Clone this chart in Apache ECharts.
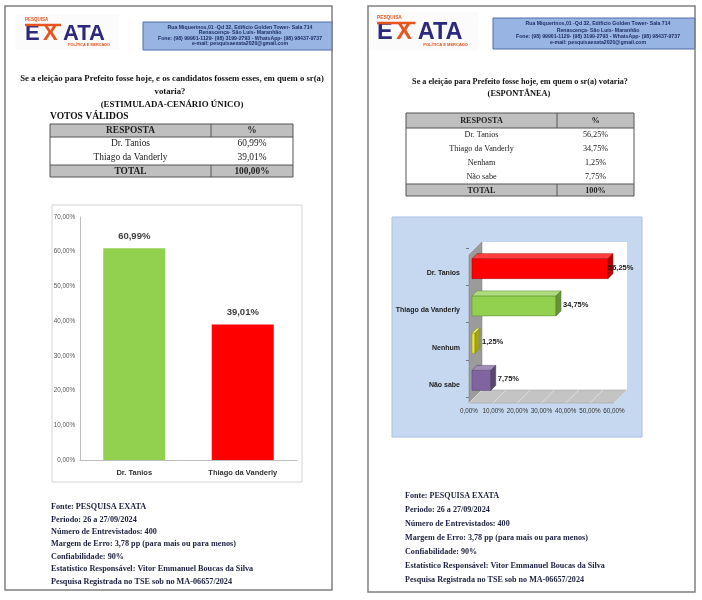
<!DOCTYPE html>
<html><head><meta charset="utf-8">
<script src="https://cdn.jsdelivr.net/npm/echarts@6/dist/echarts.min.js"></script>
<style>html,body{margin:0;padding:0;background:#fff}#c{width:702px;height:600px}</style>
</head><body><div id="c"></div>
<script>
// ---------------- DATA ----------------
const leftCategories = ['Dr. Tanios', 'Thiago da Vanderly'];
const leftValues = [60.99, 39.01];
const leftTotalLabel = '100,00%';
const rightCategories = ['Dr. Tanios', 'Thiago da Vanderly', 'Nenhum', 'Não sabe'];
const rightTableLabels = ['Dr. Tanios', 'Thiago da Vanderly', 'Nenham', 'Não sabe'];
const rightValues = [56.25, 34.75, 1.25, 7.75];
const rightTotalLabel = '100%';
const rightXTicks = [0, 10, 20, 30, 40, 50, 60];
const leftTitle = ['Se a eleição para Prefeito fosse hoje, e os candidatos fossem esses, em quem o sr(a)', 'votaria?', '(ESTIMULADA-CENÁRIO ÚNICO)'];
const leftSubtitle = 'VOTOS VÁLIDOS';
const rightTitle = ['Se a eleição para Prefeito fosse hoje, em quem o sr(a) votaria?', '(ESPONTÂNEA)'];
const tableHeader = ['RESPOSTA', '%'];
const totalLabel = 'TOTAL';
const addressLines = ['Rua Miquerinos,01 -Qd 32, Edifício Golden Tower- Sala 714', 'Renascença- São Luís- Maranhão', 'Fone: (98) 99901-1129- (98) 3199-2793 - WhatsApp- (98) 98437-9737', 'e-mail: pesquisaexata2020@gmail.com'];
const footerLines = ['Fonte: PESQUISA EXATA', 'Periodo: 26 a 27/09/2024', 'Número de Entrevistados: 400', 'Margem de Erro: 3,78 pp (para mais ou para menos)', 'Confiabilidade: 90%', 'Estatístico Responsável: Vitor Emmanuel Boucas da Silva', 'Pesquisa Registrada no TSE sob no MA-06657/2024'];

// ---------------- STYLE ----------------
const leftColors = ['#92D050', '#FF0000'];
const rightColors = ['#FF0000', '#92D050', '#E8E830', '#8064A2'];
const SERIF = '"Liberation Serif", "DejaVu Serif", serif';
const SANS = '"Liberation Sans", Arial, sans-serif';
const fmtPct = v => v.toFixed(2).replace('.', ',') + '%';
function shade(hex, f) {
  const n = parseInt(hex.slice(1), 16);
  let r = n >> 16, g = (n >> 8) & 255, b = n & 255;
  const m = c => Math.max(0, Math.min(255, Math.round(f < 0 ? c * (1 + f) : c + (255 - c) * f)));
  return 'rgb(' + m(r) + ',' + m(g) + ',' + m(b) + ')';
}

const G = [];
function txt(text, x, y, font, fill, align, z) {
  G.push({ type: 'text', z: z || 10, style: { text, x, y, font, fill: fill || '#111', textAlign: align || 'left', textVerticalAlign: 'middle' } });
}
function rect(x, y, w, h, fill, stroke, lw, z) {
  G.push({ type: 'rect', z: z || 5, shape: { x, y, width: w, height: h }, style: { fill: fill || 'none', stroke: stroke || null, lineWidth: lw || 1 } });
}
function line(x1, y1, x2, y2, stroke, lw, z) {
  G.push({ type: 'line', z: z || 6, shape: { x1, y1, x2, y2 }, style: { stroke, lineWidth: lw || 1 } });
}

// logo
function logo(x, y, s) {
  const navy = '#2D2A7E', orange = '#E9531D';
  G.push({ type: 'rect', z: 4, shape: { x: x - 10, y: y - 10, width: 104 * s, height: 36 * s }, style: { fill: '#fbfbfb' } });
  txt('PESQUISA', x, y - 4, 'bold ' + (4.5 * s) + 'px ' + SANS, orange, 'left');
  line(x, y + 1, x + 36 * s, y + 1, orange, 2.5 * s, 12);
  txt('E', x, y + 10 * s, 'bold ' + (22 * s) + 'px ' + SANS, navy, 'left');
  txt('X', x + 18 * s, y + 10 * s, 'bold ' + (22 * s) + 'px ' + SANS, orange, 'left');
  txt('ATA', x + 38 * s, y + 10 * s, 'bold ' + (22 * s) + 'px ' + SANS, navy, 'left');
  txt('POLÍTICA E MERCADO', x + 85 * s, y + 21 * s, 'bold ' + (3.8 * s) + 'px ' + SANS, orange, 'right');
}
function infoBox(x, y, w, h, cx, lineYs) {
  rect(x, y, w, h, '#98B4E3', '#4E6FA8', 1, 5);
  addressLines.forEach((t, i) => txt(t, cx, lineYs[i], 'bold 5.2px ' + SANS, '#1F2F66', 'center', 6));
}
function table(x0, xd, x1, hTop, hBot, rowH, labels, vals, total, fs) {
  const bodyBot = hBot + rowH * labels.length;
  const tBot = bodyBot + 12;
  rect(x0, hTop, x1 - x0, hBot - hTop, '#BFBFBF', null, 1, 5);
  rect(x0, bodyBot, x1 - x0, tBot - bodyBot, '#BFBFBF', null, 1, 5);
  rect(x0, hTop, x1 - x0, tBot - hTop, 'none', '#555', 1, 7);
  line(x0, hBot, x1, hBot, '#555', 1, 7);
  line(x0, bodyBot, x1, bodyBot, '#555', 1, 7);
  line(xd, hTop, xd, hBot, '#555', 1, 7);
  line(xd, bodyBot, xd, tBot, '#555', 1, 7);
  const c1 = (x0 + xd) / 2, c2 = (xd + x1) / 2;
  const fb = 'bold ' + fs + 'px ' + SERIF, fn = fs + 'px ' + SERIF;
  txt(tableHeader[0], c1, (hTop + hBot) / 2 + 0.5, fb, '#222', 'center');
  txt(tableHeader[1], c2, (hTop + hBot) / 2 + 0.5, fb, '#222', 'center');
  labels.forEach((l, i) => {
    const yy = hBot + rowH * (i + 0.5);
    txt(l, c1, yy, fn, '#222', 'center');
    txt(fmtPct(vals[i]), c2, yy, fn, '#222', 'center');
  });
  txt(totalLabel, c1, (bodyBot + tBot) / 2 + 0.5, fb, '#222', 'center');
  txt(total, c2, (bodyBot + tBot) / 2 + 0.5, fb, '#222', 'center');
}

// ---- left page ----
logo(25, 24, 1);
infoBox(143, 22, 200, 28, 240, [27.5, 33, 38.5, 44]);
G.push({ type: 'rect', z: 8, shape: { x: 333, y: 0, width: 34, height: 60 }, style: { fill: '#fff' } });
rect(5, 6, 327, 584, 'none', '#808080', 1.5, 9);
txt(leftTitle[0], 172, 79, 'bold 8.7px ' + SERIF, '#111', 'center');
txt(leftTitle[1], 170, 91.5, 'bold 8.7px ' + SERIF, '#111', 'center');
txt(leftTitle[2], 172, 105, 'bold 8.9px ' + SERIF, '#111', 'center');
txt(leftSubtitle, 50, 117, 'bold 9.5px ' + SERIF, '#111', 'left');
table(50, 211, 293, 124, 137, 14, leftCategories, leftValues, leftTotalLabel, 9.4);
rect(52, 205, 250, 277, '#fff', '#d4d4d4', 1, 1);
footerLines.forEach((t, i) => txt(t, 51, 507 + i * 12.4, 'bold 8.2px ' + SERIF, '#1d2040', 'left'));

// ---- right page ----
logo(377, 22, 1.07);
infoBox(493, 18, 202, 31, 598, [24, 30.5, 37, 43]);
rect(368, 6, 327, 586, 'none', '#808080', 1.5, 9);
txt(rightTitle[0], 520, 82, 'bold 8.2px ' + SERIF, '#111', 'center');
txt(rightTitle[1], 519, 94, 'bold 8.4px ' + SERIF, '#111', 'center');
table(406, 557, 634, 113, 128, 14, rightTableLabels, rightValues, rightTotalLabel, 8.2);
rect(392, 217, 250, 220, '#C6D8F0', '#A9C1E3', 1, 1);
footerLines.forEach((t, i) => txt(t, 405, 496 + i * 14, 'bold 8.1px ' + SERIF, '#1d2040', 'left'));

// ---------------- CHART ----------------
const D = 13;
const chart = echarts.init(document.getElementById('c'), null, { renderer: 'canvas' });
chart.setOption({
  animation: false,
  graphic: { elements: G },
  grid: [
    { left: 80, right: 405, top: 217, bottom: 140 },
    { left: 469, right: 88, top: 248, bottom: 203 }
  ],
  xAxis: [
    { type: 'category', gridIndex: 0, data: leftCategories, z: 4,
      axisLine: { lineStyle: { color: '#bfbfbf' } }, axisTick: { show: false },
      axisLabel: { fontFamily: SANS, fontWeight: 'bold', fontSize: 7.5, color: '#333', margin: 9 } },
    { type: 'value', gridIndex: 1, min: 0, max: 60, interval: 10, z: 4,
      axisLine: { show: false }, axisTick: { show: false }, splitLine: { show: false },
      axisLabel: { formatter: v => fmtPct(v), fontFamily: SANS, fontSize: 6.3, color: '#333', margin: 11 } }
  ],
  yAxis: [
    { type: 'value', gridIndex: 0, min: 0, max: 70, interval: 10, z: 4,
      axisLine: { show: true, lineStyle: { color: '#bfbfbf' } }, axisTick: { show: false }, splitLine: { show: false },
      axisLabel: { formatter: v => fmtPct(v), fontFamily: SANS, fontSize: 6.3, color: '#595959', margin: 5 } },
    { type: 'category', gridIndex: 1, data: rightCategories, inverse: true, z: 4,
      axisLine: { show: false }, axisTick: { show: true, length: 3, lineStyle: { color: '#777' } },
      axisLabel: { fontFamily: SANS, fontWeight: 'bold', fontSize: 7, color: '#222', margin: 9,
        verticalAlign: 'top', lineHeight: 13 } }
  ],
  series: [
    { type: 'bar', xAxisIndex: 0, yAxisIndex: 0, barWidth: 62, z: 3,
      data: leftValues.map((v, i) => ({ value: v, itemStyle: { color: leftColors[i] } })),
      label: { show: true, position: 'top', distance: 7, formatter: p => fmtPct(p.value),
        fontFamily: SANS, fontWeight: 'bold', fontSize: 9.5, color: '#404040' } },
    { type: 'custom', xAxisIndex: 1, yAxisIndex: 1, silent: true, z: 2,
      data: [[0, 0]],
      renderItem: (params, api) => {
        const cs = params.coordSys;
        const x = cs.x, y = cs.y, w = cs.width, h = cs.height;
        const ff = y + h + 6, fb = ff - D;
        const ch = [
          { type: 'rect', shape: { x: x + D, y: y - 6, width: w, height: fb - (y - 6) }, style: { fill: '#fff' } },
          { type: 'polygon', shape: { points: [[x, y + 7], [x + D, y - 6], [x + D, fb], [x, ff]] }, style: { fill: '#9b9b9b', stroke: '#7a7a7a', lineWidth: 0.5 } },
          { type: 'polygon', shape: { points: [[x, ff], [x + w, ff], [x + w + D, fb], [x + D, fb]] }, style: { fill: '#c4c4c4', stroke: '#9a9a9a', lineWidth: 0.5 } }
        ];
        rightXTicks.forEach(t => {
          const px = api.coord([t, 0])[0];
          ch.push({ type: 'line', shape: { x1: px, y1: ff, x2: px + D, y2: fb }, style: { stroke: '#e6e6e6', lineWidth: 0.8 } });
        });
        return { type: 'group', children: ch };
      } },
    { type: 'custom', xAxisIndex: 1, yAxisIndex: 1, silent: true, z: 3,
      data: rightValues.map((v, i) => [v, i]),
      renderItem: (params, api) => {
        const cs = params.coordSys;
        const i = api.value(1);
        const p0 = api.coord([0, i]), p1 = api.coord([api.value(0), i]);
        const x0 = p0[0] + 3, x1 = p1[0] + 3, cy = p0[1];
        const t = cy - 8, b = cy + 12, d = 5;
        const col = rightColors[i];
        const lx = Math.min(x1 + 7, cs.x + cs.width - 6);
        return { type: 'group', children: [
          { type: 'rect', shape: { x: x0, y: t, width: x1 - x0, height: b - t }, style: { fill: col, stroke: shade(col, -0.35), lineWidth: 0.5 } },
          { type: 'polygon', shape: { points: [[x0, t], [x0 + d, t - d], [x1 + d, t - d], [x1, t]] }, style: { fill: shade(col, 0.25), stroke: shade(col, -0.35), lineWidth: 0.5 } },
          { type: 'polygon', shape: { points: [[x1, t], [x1 + d, t - d], [x1 + d, b - d], [x1, b]] }, style: { fill: shade(col, -0.3), stroke: shade(col, -0.45), lineWidth: 0.5 } },
          { type: 'text', z2: 10, style: { text: fmtPct(api.value(0)), x: lx, y: cy + 1, font: 'bold 7.5px ' + SANS, fill: '#1a1a1a', textAlign: 'left', textVerticalAlign: 'middle' } }
        ] };
      } }
  ]
});
</script></body></html>
